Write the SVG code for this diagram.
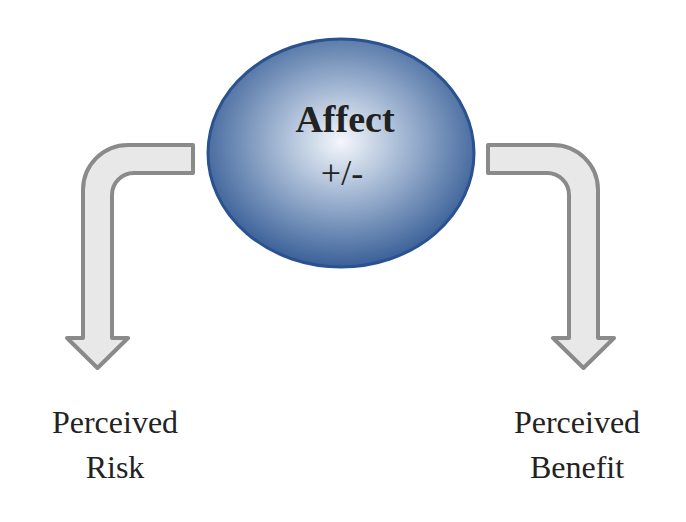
<svg xmlns="http://www.w3.org/2000/svg" width="686" height="522" viewBox="0 0 686 522">
<defs>
<radialGradient id="g" cx="0.5" cy="0.45" r="0.55">
<stop offset="0" stop-color="#f4f7fb"/>
<stop offset="0.4" stop-color="#a9bcd6"/>
<stop offset="1" stop-color="#3a6098"/>
</radialGradient>
<path id="arr" d="M193,145 L128,145 A45,45 0 0 0 83,190 L83,338 L67,338 L97.5,368 L128,338 L112,338 L112,195 A22,22 0 0 1 134,173 L193,173 Z"/>
</defs>
<style>
.a{fill:#e8e8e8;stroke:#8a8a8a;stroke-width:4;stroke-linejoin:round}
.t{font-family:"Liberation Serif",serif;fill:#222;text-anchor:middle}
</style>
<rect width="686" height="522" fill="#fff"/>
<g id="connectors">
<use href="#arr" class="a"/>
<use href="#arr" class="a" transform="translate(681,0) scale(-1,1)"/>
</g>
<g id="affect">
<ellipse cx="341" cy="153" rx="133" ry="114" fill="url(#g)" stroke="#2b5290" stroke-width="3"/>
<text class="t" x="345" y="132" font-size="38" font-weight="bold">Affect</text>
<text class="t" x="342" y="185" font-size="36">+/-</text>
</g>
<g id="risk">
<text class="t" x="115" y="433" font-size="32">Perceived</text>
<text class="t" x="115" y="478" font-size="32">Risk</text>
</g>
<g id="benefit">
<text class="t" x="577" y="433" font-size="32">Perceived</text>
<text class="t" x="577" y="478" font-size="32">Benefit</text>
</g>
</svg>
